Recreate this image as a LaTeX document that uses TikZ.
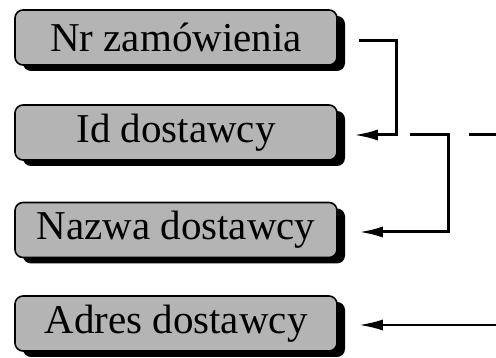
\documentclass[tikz,border=0pt]{standalone}
\usepackage{fontspec}
\setmainfont{Liberation Serif}
\usetikzlibrary{arrows.meta,shadows}
\definecolor{boxgray}{RGB}{180,180,180}
\tikzset{
  fieldbox/.style={draw=black, line width=1.6pt, fill=boxgray, rounded corners=8pt,
    minimum width=322pt, minimum height=55pt, inner sep=0pt,
    font=\fontsize{41}{48}\selectfont,
    drop shadow={shadow xshift=8pt, shadow yshift=-6pt, fill=black, opacity=1}},
  conn/.style={line width=3pt, -{Latex[length=24pt,width=11pt]}},
  plainline/.style={line width=3pt}
}
\begin{document}
\begin{tikzpicture}[x=1pt,y=1pt]
\useasboundingbox (0,0) rectangle (496,358);
\node[fieldbox] (n1) at (176,320.5) {Nr zamówienia};
\node[fieldbox] (n2) at (176,225.5) {Id dostawcy};
\node[fieldbox] (n3) at (176,128) {Nazwa dostawcy};
\node[fieldbox] (n4) at (176,34.5) {Adres dostawcy};
\coordinate (c1) at (496,223);
\coordinate (c2) at (496,33);
\draw[conn] ([xshift=21pt,yshift=-3pt]n1.east) -- ++(38,0) |- ([xshift=16pt,yshift=-2.5pt]n2.east);
\draw[conn] ([xshift=72pt,yshift=-2.5pt]n2.east) -- ++(39,0) |- ([xshift=21pt,yshift=-2pt]n3.east);
\draw[plainline] ([xshift=131pt,yshift=-2.5pt]n2.east) -- (c1);
\draw[conn, line width=2.5pt] (c2) -- ([xshift=21pt,yshift=-1.5pt]n4.east);
\end{tikzpicture}
\end{document}
